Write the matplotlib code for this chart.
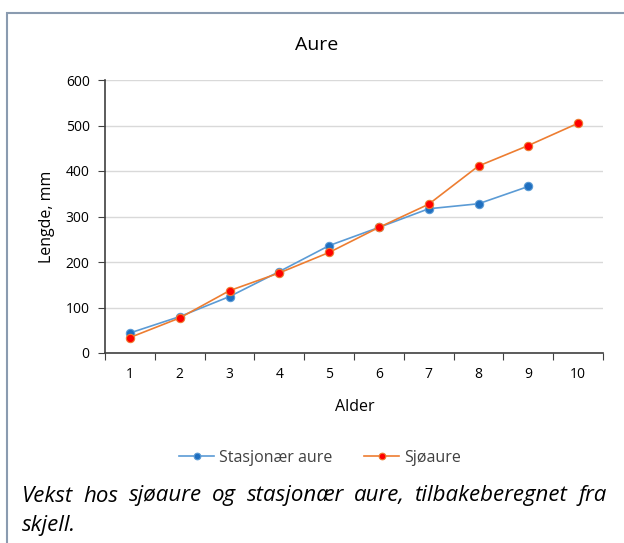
import matplotlib
matplotlib.use("Agg")
import matplotlib.pyplot as plt
from matplotlib.patches import Rectangle

ages = [1, 2, 3, 4, 5, 6, 7, 8, 9, 10]
stasjonaer = [44, 80, 124, 179, 236, 276, 317, 328, 366]
sjoaure = [34, 77, 137, 176, 221, 276, 327, 411, 456, 505]
yticks = [0, 100, 200, 300, 400, 500, 600]
title = "Aure"
xlabel = "Alder"
ylabel = "Lengde, mm"
caption1 = "Vekst hos sjøaure og stasjonær aure, tilbakeberegnet fra"
caption2 = "skjell."

plt.rcParams['font.family'] = ['Open Sans', 'DejaVu Sans']

W, H = 624, 543
fig = plt.figure(figsize=(W/100, H/100), dpi=100)
fig.patch.set_facecolor('white')

# outer frame
fig.patches.append(Rectangle((7/W, -0.05), (W+20)/W, 1 - 13/H + 0.05, transform=fig.transFigure,
                             fill=False, edgecolor='#8A9BB0', linewidth=1.5))

ax = fig.add_axes([105/W, 1-353/H, (603-105)/W, (353-80)/H])
ax.plot(ages[:len(stasjonaer)], stasjonaer, color='#5B9BD5', lw=1.2, marker='o', ms=6,
        mfc='#1F6FC0', mec='#5B9BD5', mew=0.8, label='Stasjonær aure', zorder=3)
ax.plot(ages, sjoaure, color='#ED7D31', lw=1.2, marker='o', ms=6,
        mfc='#FF0000', mec='#ED7D31', mew=0.8, label='Sjøaure', zorder=4)

ax.set_xlim(0.5, 10.5)
ax.set_ylim(0, 600)
ax.set_yticks(yticks)
ax.set_xticks([a - 0.5 for a in ages] + [10.5])
ax.set_xticklabels([])
ax.set_xticks(ages, minor=True)
ax.set_xticklabels([str(a) for a in ages], minor=True)
ax.tick_params(axis='x', which='minor', length=0, pad=10, labelsize=10, labelcolor='#000000')
ax.tick_params(axis='x', which='major', length=5, direction='out', color='#404040')
ax.tick_params(axis='y', length=5, direction='out', color='#404040', labelsize=10, pad=6)
ax.grid(axis='y', color='#D9D9D9', lw=1)
ax.set_axisbelow(True)
for s in ['top', 'right']:
    ax.spines[s].set_visible(False)
for s in ['left', 'bottom']:
    ax.spines[s].set_color('#404040')
    ax.spines[s].set_linewidth(1.2)

fig.text(317/W, 1-45/H, title, ha='center', va='center', fontsize=14)
fig.text(355/W, 1-407/H, xlabel, ha='center', va='center', fontsize=11.5)
fig.text(47/W, 1-(80+353)/2/H, ylabel, ha='center', va='center', rotation=90, fontsize=11.5)

leg = fig.legend(loc='center', bbox_to_anchor=(320/W, 1-458/H), ncol=2, frameon=False,
                 fontsize=11.5, handlelength=2.2, columnspacing=2.0, handletextpad=0.3,
                 markerscale=0.8)
for t in leg.get_texts():
    t.set_color('#404040')

# justified caption first line
fig.canvas.draw()
r = fig.canvas.get_renderer()
words = caption1.split(' ')
x0, x1 = 22/W, 607/W
y1 = 1 - 496/H
texts = [fig.text(0, y1, w, fontsize=16, style='italic', va='center') for w in words]
widths = [t.get_window_extent(r).width / W for t in texts]
gap = (x1 - x0 - sum(widths)) / (len(words) - 1)
x = x0
for t, w in zip(texts, widths):
    t.set_x(x)
    x += w + gap
fig.text(x0, 1 - 525/H, caption2, fontsize=16, style='italic', va='center')

fig.savefig('out.png', dpi=100)
